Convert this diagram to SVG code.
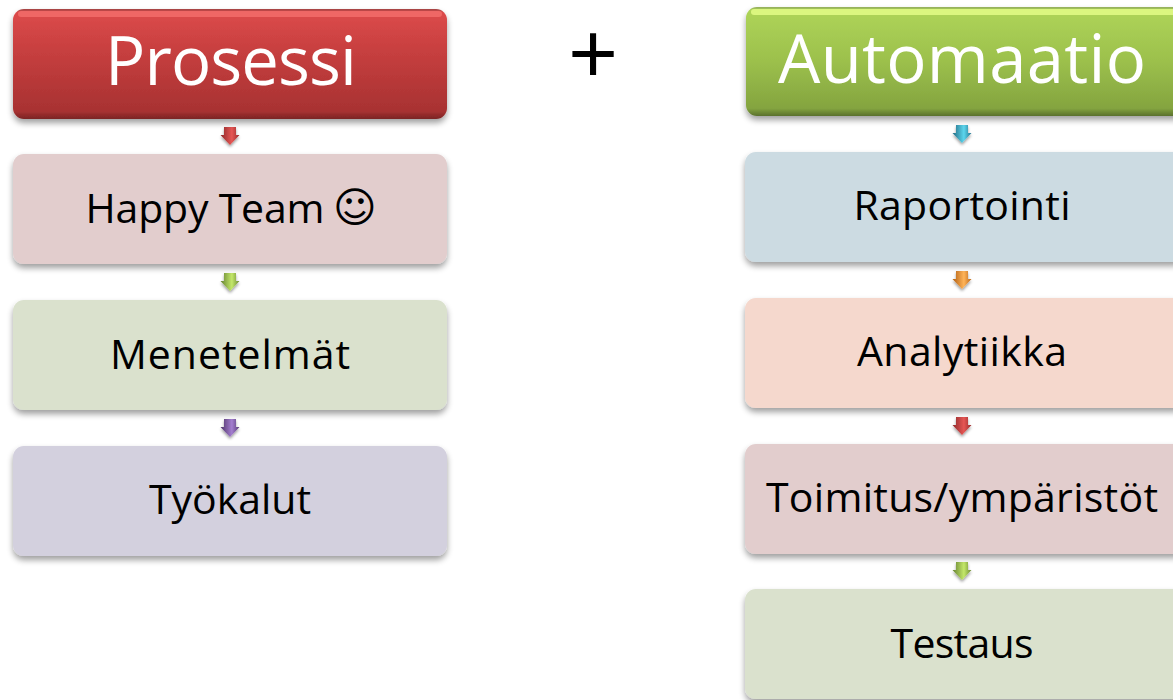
<svg xmlns="http://www.w3.org/2000/svg" width="1173" height="700" viewBox="0 0 1173 700">
<style>
text{font-family:"Open Sans","Noto Sans","Liberation Sans",sans-serif;text-anchor:middle}
.t{font-size:41px;fill:#000}
.h{font-size:67px;fill:#fff}
.box{filter:url(#sh)}
</style>
<defs>
<filter id="sh" x="-5%" y="-15%" width="110%" height="135%"><feGaussianBlur in="SourceAlpha" stdDeviation="3"/><feOffset dy="4"/><feComponentTransfer><feFuncA type="linear" slope="0.38"/></feComponentTransfer><feMerge><feMergeNode/><feMergeNode in="SourceGraphic"/></feMerge></filter>
<filter id="ash" x="-40%" y="-40%" width="180%" height="190%"><feGaussianBlur in="SourceAlpha" stdDeviation="1.5"/><feOffset dy="2"/><feComponentTransfer><feFuncA type="linear" slope="0.4"/></feComponentTransfer><feMerge><feMergeNode/><feMergeNode in="SourceGraphic"/></feMerge></filter>
<linearGradient id="red" x1="0" y1="0" x2="0" y2="1"><stop offset="0" stop-color="#a04444"/><stop offset="0.03" stop-color="#dc4a4a"/><stop offset="0.5" stop-color="#c03c3c"/><stop offset="0.93" stop-color="#a83232"/><stop offset="1" stop-color="#7a2424"/></linearGradient>
<linearGradient id="green" x1="0" y1="0" x2="0" y2="1"><stop offset="0" stop-color="#93ad5c"/><stop offset="0.03" stop-color="#aed458"/><stop offset="0.5" stop-color="#9cc04c"/><stop offset="0.93" stop-color="#84a43f"/><stop offset="1" stop-color="#5a702c"/></linearGradient>
<linearGradient id="aR" x1="0" x2="1" y1="0" y2="0"><stop offset="0" stop-color="#8e2a2a"/><stop offset="0.6" stop-color="#e65654"/><stop offset="1" stop-color="#982c2c"/></linearGradient>
<linearGradient id="aG" x1="0" x2="1" y1="0" y2="0"><stop offset="0" stop-color="#648030"/><stop offset="0.6" stop-color="#c4e86a"/><stop offset="1" stop-color="#6c8a34"/></linearGradient>
<linearGradient id="aP" x1="0" x2="1" y1="0" y2="0"><stop offset="0" stop-color="#4e3468"/><stop offset="0.6" stop-color="#a47ed0"/><stop offset="1" stop-color="#563a74"/></linearGradient>
<linearGradient id="aB" x1="0" x2="1" y1="0" y2="0"><stop offset="0" stop-color="#216a82"/><stop offset="0.6" stop-color="#5cd6ee"/><stop offset="1" stop-color="#26748e"/></linearGradient>
<linearGradient id="aO" x1="0" x2="1" y1="0" y2="0"><stop offset="0" stop-color="#b05e14"/><stop offset="0.6" stop-color="#ffb458"/><stop offset="1" stop-color="#ba6618"/></linearGradient>
<path id="arr" d="M-6 -9H6V-1H9.500L0 9L-9.500 -1H-6Z" filter="url(#ash)"/>
</defs>
<rect width="1173" height="700" fill="#fff"/>
<g id="connectors">
<use href="#arr" x="230" y="136" fill="url(#aR)"/>
<use href="#arr" x="230" y="282" fill="url(#aG)"/>
<use href="#arr" x="230" y="428" fill="url(#aP)"/>
<use href="#arr" x="962" y="134" fill="url(#aB)"/>
<use href="#arr" x="962" y="280" fill="url(#aO)"/>
<use href="#arr" x="962" y="426" fill="url(#aR)"/>
<use href="#arr" x="962" y="571" fill="url(#aG)"/>
</g>
<g id="prosessi"><rect class="box" x="13" y="9" width="434" height="110" rx="11" fill="url(#red)"/><rect x="18" y="11" width="424" height="6" rx="3" fill="#f26c6a" opacity="0.85"/><text class="h" x="231" y="85" textLength="252">Prosessi</text></g>
<g id="happy-team"><rect class="box" x="13" y="154" width="434" height="110" rx="11" fill="#e2cdcd"/><text class="t" x="205" y="223" textLength="239">Happy Team</text><text x="355" y="222" style="font-family:'DejaVu Sans',sans-serif;font-size:42px">☺</text></g>
<g id="menetelmat"><rect class="box" x="13" y="300" width="434" height="110" rx="11" fill="#dae1cd"/><text class="t" x="230" y="369" textLength="240">Menetelmät</text></g>
<g id="tyokalut"><rect class="box" x="13" y="446" width="434" height="110" rx="11" fill="#d3d0de"/><text class="t" x="230" y="514" textLength="162">Työkalut</text></g>
<g id="plus"><text x="593" y="83" style="font-family:'Liberation Sans',sans-serif;font-size:85px;fill:#000">+</text></g>
<g id="automaatio"><rect class="box" x="746" y="7" width="440" height="109" rx="11" fill="url(#green)"/><rect x="751" y="9" width="430" height="6" rx="3" fill="#e0fa84" opacity="0.9"/><text class="h" x="962" y="83" textLength="368">Automaatio</text></g>
<g id="raportointi"><rect class="box" x="745" y="152" width="440" height="110" rx="11" fill="#ccdbe2"/><text class="t" x="962" y="220" textLength="217">Raportointi</text></g>
<g id="analytiikka"><rect class="box" x="745" y="298" width="440" height="110" rx="11" fill="#f5d8cd"/><text class="t" x="962" y="366" textLength="210">Analytiikka</text></g>
<g id="toimitus"><rect class="box" x="745" y="444" width="440" height="110" rx="11" fill="#e2cdcd"/><text class="t" x="962" y="512" textLength="392">Toimitus/ympäristöt</text></g>
<g id="testaus"><rect class="box" x="745" y="589" width="440" height="110" rx="11" fill="#dae1cd"/><text class="t" x="962" y="658" textLength="143">Testaus</text></g>
</svg>
